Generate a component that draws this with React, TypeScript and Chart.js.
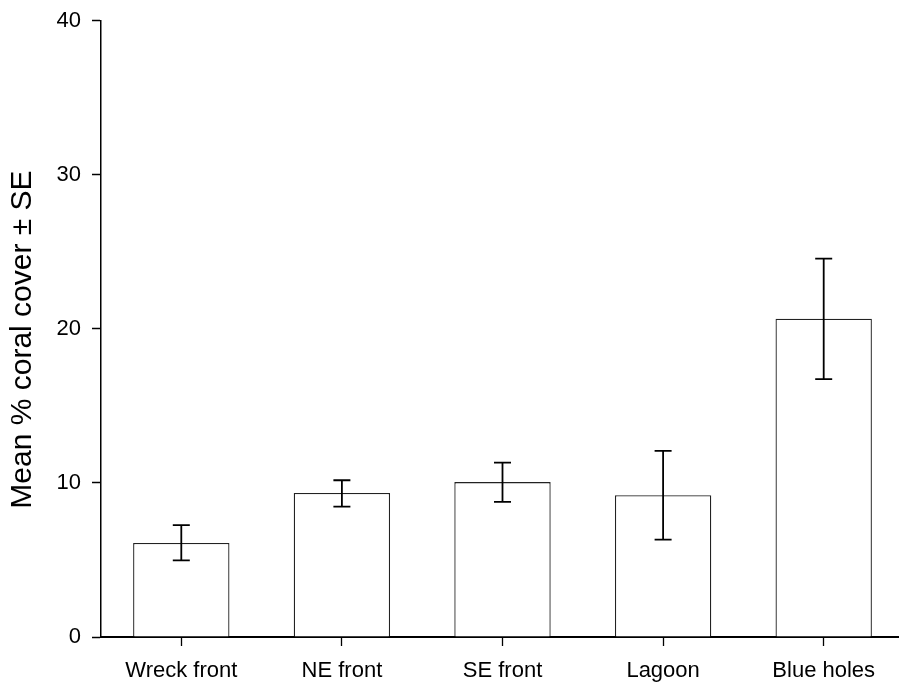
import React, { useEffect, useRef } from "react";
import { Chart, registerables } from "chart.js";

Chart.register(...registerables);

const categories = ["Wreck front", "NE front", "SE front", "Lagoon", "Blue holes"];
const meanCover = [6.1, 9.35, 10.05, 9.2, 20.65];
const errLower = [4.97, 8.46, 8.77, 6.32, 16.73];
const errUpper = [7.26, 10.17, 11.32, 12.08, 24.55];
const yTicks = [0, 10, 20, 30, 40];
const yTitle = "Mean % coral cover ± SE";

const FONT = "'Liberation Sans', Arial, sans-serif";

const errorBarPlugin = {
  id: "errorBars",
  afterDatasetsDraw(chart: any) {
    const ctx = chart.ctx;
    const x = chart.scales.x;
    const y = chart.scales.y;
    ctx.save();
    ctx.strokeStyle = "#000";
    ctx.lineWidth = 1.8;
    categories.forEach((_, i) => {
      const cx = x.getPixelForValue(i);
      const yl = y.getPixelForValue(errLower[i]);
      const yh = y.getPixelForValue(errUpper[i]);
      const half = 8.5;
      ctx.beginPath();
      ctx.moveTo(cx, yl);
      ctx.lineTo(cx, yh);
      ctx.moveTo(cx - half, yh);
      ctx.lineTo(cx + half, yh);
      ctx.moveTo(cx - half, yl);
      ctx.lineTo(cx + half, yl);
      ctx.stroke();
    });
    ctx.restore();
  },
};

const yTitlePlugin = {
  id: "yTitle",
  afterDraw(chart: any) {
    const ctx = chart.ctx;
    ctx.save();
    ctx.translate(22.5, 339.5);
    ctx.rotate(-Math.PI / 2);
    ctx.fillStyle = "#000";
    ctx.font = `30px ${FONT}`;
    ctx.textAlign = "center";
    ctx.textBaseline = "middle";
    ctx.fillText(yTitle, 0, 0);
    ctx.restore();
  },
};

export default function App() {
  const ref = useRef<HTMLCanvasElement | null>(null);
  useEffect(() => {
    document.body.style.margin = "0";
    document.body.style.overflow = "hidden";
    const canvas = ref.current!;
    const chart = new Chart(canvas, {
      type: "bar",
      data: {
        labels: categories,
        datasets: [
          {
            data: meanCover,
            backgroundColor: "#ffffff",
            borderColor: "#222",
            borderWidth: 1.3,
            barPercentage: 0.6,
            categoryPercentage: 1,
          },
        ],
      },
      options: {
        responsive: false,
        animation: false,
        devicePixelRatio: 1,
        layout: { padding: { top: 20.5, right: 1, left: 0, bottom: 0 } },
        plugins: { legend: { display: false }, tooltip: { enabled: false } },
        scales: {
          x: {
            offset: true,
            grid: {
              offset: false,
              drawOnChartArea: false,
              drawTicks: true,
              tickLength: 9,
              tickColor: "#000",
              tickWidth: 1.3,
            },
            border: { display: true, color: "#000", width: 2 },
            ticks: {
              color: "#000",
              font: { family: FONT, size: 22 },
              padding: 12,
              maxRotation: 0,
            },
            afterFit(scale: any) {
              scale.height = 50;
              scale.paddingLeft = 0;
              scale.paddingRight = 0;
            },
          },
          y: {
            min: 0,
            max: 40,
            afterBuildTicks(scale: any) {
              scale.ticks = yTicks.map((v) => ({ value: v }));
            },
            grid: {
              drawOnChartArea: false,
              drawTicks: true,
              tickLength: 9,
              tickColor: "#000",
              tickWidth: 1.5,
            },
            border: { display: true, color: "#000", width: 1.5 },
            ticks: {
              color: "#000",
              font: { family: FONT, size: 22 },
              padding: 11,
            },
            afterFit(scale: any) {
              scale.width = 101;
              scale.paddingTop = 0;
              scale.paddingBottom = 0;
            },
          },
        },
      },
      plugins: [errorBarPlugin, yTitlePlugin],
    });
    return () => chart.destroy();
  }, []);
  return (
    <div style={{ position: "relative", width: 905, height: 687 }}>
      <canvas ref={ref} width={905} height={687} style={{ display: "block" }} />
    </div>
  );
}
